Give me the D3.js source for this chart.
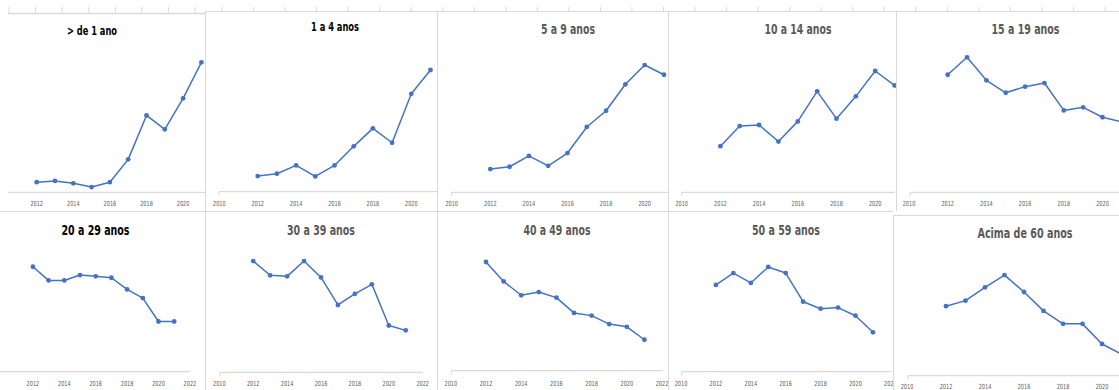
<!DOCTYPE html>
<html>
<head>
<meta charset="utf-8">
<script src="https://cdn.jsdelivr.net/npm/d3@7"></script>
<style>
  html, body { margin: 0; padding: 0; background: #fff; }
  svg { display: block; }
  .title { font-family: "Liberation Sans Narrow", "Arial Narrow", "DejaVu Sans Condensed", sans-serif; font-weight: bold; }
  .tick-label { font-family: "Liberation Sans Narrow", "Arial Narrow", "DejaVu Sans Condensed", sans-serif; }
</style>
</head>
<body>
<script>
// ---------- DATA ----------
const years = [2012, 2013, 2014, 2015, 2016, 2017, 2018, 2019, 2020, 2021];
const titles = ["> de 1 ano", "1 a 4 anos", "5 a 9 anos", "10 a 14 anos", "15 a 19 anos",
                "20 a 29 anos", "30 a 39 anos", "40 a 49 anos", "50 a 59 anos", "Acima de 60 anos"];
const serieMenor1 = [5.6, 6.3, 5.0, 2.9, 5.6, 18.3, 42.7, 35.0, 52.2, 72.2];
const serie1a4    = [8.7, 10.0, 14.6, 8.5, 14.6, 25.2, 35.2, 27.2, 54.4, 67.6];
const serie5a9    = [12.9, 14.2, 20.2, 14.7, 21.8, 36.3, 45.3, 60.0, 70.7, 65.3];
const serie10a14  = [25.6, 36.8, 37.4, 28.2, 39.4, 56.1, 40.9, 53.3, 67.4, 59.4];
const serie15a19  = [65.3, 75.0, 62.2, 55.3, 58.7, 60.7, 45.5, 47.2, 41.7, 39.1];
const serie20a29  = [58.3, 50.7, 50.7, 53.7, 53.0, 52.2, 45.7, 40.9, 27.9, 27.9];
const serie30a39  = [61.8, 53.9, 53.3, 61.8, 52.7, 37.4, 43.6, 48.9, 26.0, 23.3];
const serie40a49  = [60.4, 49.6, 41.9, 43.7, 40.6, 32.1, 30.6, 25.9, 24.4, 17.2];
const serie50a59  = [48.2, 54.8, 49.3, 58.2, 54.8, 38.9, 35.0, 35.6, 31.1, 21.9];
const serie60mais = [38.6, 41.7, 49.1, 55.9, 46.5, 36.0, 28.8, 28.8, 17.6, 11.9];
const ticksA = [2012, 2014, 2016, 2018, 2020];
const ticksB = [2010, 2012, 2014, 2016, 2018, 2020];
const ticksC = [2012, 2014, 2016, 2018, 2020, 2022];
const ticksD = [2010, 2012, 2014, 2016, 2018, 2020, 2022];

// ---------- LAYOUT (collage of small Excel-style charts) ----------
const W = 1119, H = 390;
const BLUE = "#4472C4", GRID = "#d9d9d9", TXT = "#595959";
const panels = [
  {s: serieMenor1, t: 0, tc: "#000", ts: 13,   tw: 50, clip: [0, 0, 205, 211],     x0: 0.1,   py: 18.3,  ay: 192.3, ax: [8, 205],       tk: ticksA, ly: 204,   tx: 92,   ty: 30,  start: false},
  {s: serie1a4,    t: 1, tc: "#000", ts: 12.5, tw: 48, clip: [205, 0, 437, 211],   x0: 219.3, py: 19.2,  ay: 191.7, ax: [219, 437],     tk: ticksB, ly: 204,   tx: 335,  ty: 27,  start: true},
  {s: serie5a9,    t: 2, tc: TXT,    ts: 13.7, tw: 54, clip: [437, 0, 668, 211],   x0: 451.7, py: 19.3,  ay: 192.3, ax: [451.7, 668],   tk: ticksB, ly: 204,   tx: 568,  ty: 29,  start: true},
  {s: serie10a14,  t: 3, tc: TXT,    ts: 13.7, tw: 67, clip: [668, 0, 896, 211],   x0: 681.7, py: 19.35, ay: 192.3, ax: [681.7, 895],   tk: ticksB, ly: 204,   tx: 798,  ty: 29,  start: true},
  {s: serie15a19,  t: 4, tc: TXT,    ts: 13.7, tw: 68, clip: [896, 0, 1119, 211],  x0: 909,   py: 19.35, ay: 192.3, ax: [910, 1119],    tk: ticksB, ly: 204,   tx: 1025.5, ty: 29, start: true},
  {s: serie20a29,  t: 5, tc: "#000", ts: 13.7, tw: 68, clip: [0, 211, 205, 390],   x0: 1.5,   py: 15.7,  ay: 371.7, ax: [0, 190],       tk: ticksC, ly: 383.3, tx: 95.5, ty: 230, start: false},
  {s: serie30a39,  t: 6, tc: TXT,    ts: 13.7, tw: 68, clip: [205, 211, 437, 390], x0: 219.3, py: 16.95, ay: 372.3, ax: [220, 422.7],   tk: ticksD, ly: 383.3, tx: 321,  ty: 230, start: true},
  {s: serie40a49,  t: 7, tc: TXT,    ts: 13.7, tw: 67, clip: [437, 211, 668, 390], x0: 450.8, py: 17.6,  ay: 370.7, ax: [451.7, 663],   tk: ticksD, ly: 383.3, tx: 557,  ty: 230, start: true},
  {s: serie50a59,  t: 8, tc: TXT,    ts: 13.7, tw: 68, clip: [668, 211, 893, 390], x0: 681,   py: 17.45, ay: 371.7, ax: [681.7, 891.7], tk: ticksD, ly: 383.3, tx: 786,  ty: 230, start: true},
  {s: serie60mais, t: 9, tc: TXT,    ts: 13.7, tw: 95, clip: [893, 215, 1119, 390],x0: 907,   py: 19.5,  ay: 375.7, ax: [908, 1119],    tk: ticksB, ly: 386.7, tx: 1025, ty: 233, start: true}
];

const svg = d3.select("body").append("svg").attr("width", W).attr("height", H);
const defs = svg.append("defs");

// ---------- top strip (axis fragments of charts above) ----------
const stripL = d3.scaleLinear().domain([0, 7]).range([9, 195]);
const stripR = d3.scaleLinear().domain([0, 28]).range([222, 1105]);
svg.append("line").attr("x1", 8).attr("x2", 205).attr("y1", 13.5).attr("y2", 13.5)
  .attr("stroke", GRID).attr("stroke-width", 1.5);
svg.append("line").attr("x1", 205).attr("x2", W).attr("y1", 11.5).attr("y2", 11.5)
  .attr("stroke", GRID).attr("stroke-width", 1);
svg.append("g").selectAll("line").data(d3.range(8)).join("line")
  .attr("x1", d => stripL(d)).attr("x2", d => stripL(d)).attr("y1", 7).attr("y2", 13)
  .attr("stroke", GRID);
svg.append("g").selectAll("line").data(d3.range(29)).join("line")
  .attr("x1", d => stripR(d)).attr("x2", d => stripR(d)).attr("y1", 7).attr("y2", 11)
  .attr("stroke", GRID);

// ---------- panel borders ----------
const vTop = [205, 437, 668, 896];
const vBot = [205, 437, 668, 893];
svg.append("g").selectAll("line").data(vTop).join("line")
  .attr("x1", d => d + 0.5).attr("x2", d => d + 0.5).attr("y1", 12).attr("y2", 211)
  .attr("stroke", GRID);
svg.append("g").selectAll("line").data(vBot).join("line")
  .attr("x1", d => d + 0.5).attr("x2", d => d + 0.5).attr("y1", d => d === 893 ? 215 : 211).attr("y2", H)
  .attr("stroke", GRID);
svg.append("line").attr("x1", 0).attr("x2", 893).attr("y1", 211.5).attr("y2", 211.5).attr("stroke", GRID);
svg.append("line").attr("x1", 893).attr("x2", W).attr("y1", 215.5).attr("y2", 215.5).attr("stroke", GRID);

// ---------- panels ----------
panels.forEach((p, i) => {
  const [cx0, cy0, cx1, cy1] = p.clip;
  defs.append("clipPath").attr("id", "clip" + i)
    .append("rect").attr("x", cx0).attr("y", cy0).attr("width", cx1 - cx0).attr("height", cy1 - cy0);
  const g = svg.append("g").attr("clip-path", `url(#clip${i})`);

  const x = d3.scaleLinear().domain([2010, 2022]).range([p.x0, p.x0 + 12 * p.py]);
  const y = d3.scaleLinear().domain([0, 100]).range([p.ay, p.ay - 180]);

  // x axis line
  g.append("line").attr("x1", p.ax[0]).attr("x2", p.ax[1]).attr("y1", p.ay).attr("y2", p.ay)
    .attr("stroke", GRID).attr("stroke-width", 1.2);
  if (p.start) {
    g.append("line").attr("x1", p.ax[0]).attr("x2", p.ax[0]).attr("y1", p.ay).attr("y2", p.ay + 4)
      .attr("stroke", GRID);
  }
  // tick labels
  g.append("g").selectAll("text").data(p.tk).join("text")
    .attr("class", "tick-label")
    .attr("x", d => x(d) - 6.3).attr("y", p.ly).attr("dy", "0.35em")
    .attr("font-size", 7).attr("fill", TXT)
    .attr("textLength", 12.6).attr("lengthAdjust", "spacingAndGlyphs")
    .text(d => d);

  // title
  g.append("text").attr("class", "title")
    .attr("x", p.tx - p.tw / 2).attr("y", p.ty).attr("dy", "0.35em")
    .attr("font-size", p.ts).attr("fill", p.tc)
    .attr("textLength", p.tw).attr("lengthAdjust", "spacingAndGlyphs")
    .text(titles[p.t]);

  // series line
  const pts = years.map((yr, k) => [yr, p.s[k]]);
  const line = d3.line().x(d => x(d[0])).y(d => y(d[1]));
  g.append("path").datum(pts).attr("d", line)
    .attr("fill", "none").attr("stroke", BLUE).attr("stroke-width", 1.5)
    .attr("stroke-linejoin", "round");
  g.append("g").selectAll("circle").data(pts).join("circle")
    .attr("cx", d => x(d[0])).attr("cy", d => y(d[1])).attr("r", 2.4)
    .attr("fill", BLUE);
});
</script>
</body>
</html>
